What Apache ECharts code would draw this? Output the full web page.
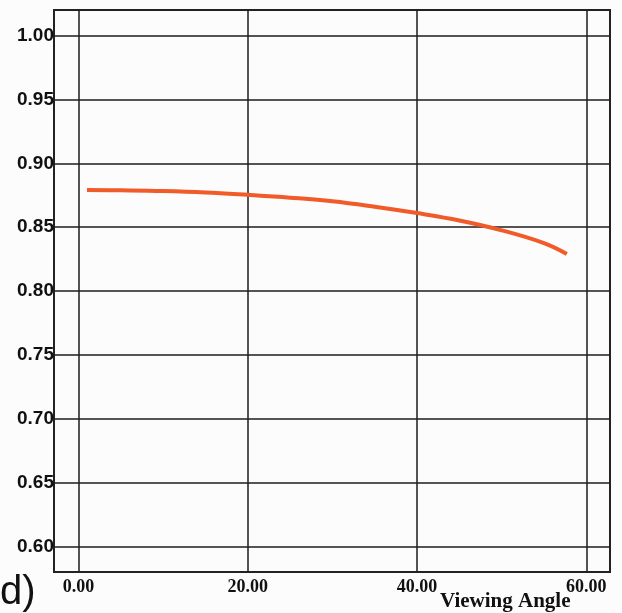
<!DOCTYPE html>
<html>
<head>
<meta charset="utf-8">
<script src="https://cdn.jsdelivr.net/npm/echarts@6/dist/echarts.min.js"></script>
<style>html,body{margin:0;padding:0;background:#fbfcfb;}#c{width:622px;height:613px;}</style>
</head>
<body>
<div id="c"></div>
<script>
const angles = [1, 5, 10, 15, 20, 25, 30, 35, 40, 45, 50, 55, 57.7];
const values = [0.8790, 0.8788, 0.8783, 0.8772, 0.8753, 0.8731, 0.8703, 0.8660, 0.8610, 0.8552, 0.8475, 0.8375, 0.8290];
const xTicks = [0, 20, 40, 60];
const yTicks = [0.60, 0.65, 0.70, 0.75, 0.80, 0.85, 0.90, 0.95, 1.00];
const xTitle = 'Viewing Angle';
const panelLabel = 'd)';

const chart = echarts.init(document.getElementById('c'));
chart.setOption({
  backgroundColor: '#fbfcfb',
  animation: false,
  grid: { left: 54, top: 10, right: 12, bottom: 41, show: true, borderColor: '#222', borderWidth: 2, backgroundColor: 'transparent' },
  xAxis: {
    type: 'value', min: -2.9, max: 62.8,
    axisLine: { show: false },
    axisTick: { show: false, customValues: xTicks },
    axisLabel: { customValues: xTicks, formatter: v => v.toFixed(2), color: '#111', fontFamily: 'Liberation Serif', fontWeight: 'bold', fontSize: 18, margin: 6 },
    splitLine: { show: true, lineStyle: { color: '#1c1c1c', width: 1.5 } }
  },
  yAxis: {
    type: 'value', min: 0.58, max: 1.02,
    axisLine: { show: false },
    axisTick: { show: false, customValues: yTicks },
    axisLabel: { customValues: yTicks, formatter: v => v.toFixed(2), color: '#111', fontFamily: 'Liberation Sans', fontWeight: 'bold', fontSize: 19, margin: 0 },
    splitLine: { show: true, lineStyle: { color: '#1c1c1c', width: 1.5 } }
  },
  graphic: [
    { type: 'text', left: 440, top: 591, style: { text: xTitle, fill: '#111', font: 'bold 21px "Liberation Serif"' } },
    { type: 'text', left: 0, top: 573, style: { text: panelLabel, fill: '#111', font: '40px "Liberation Sans"' } }
  ],
  series: [{
    type: 'line', smooth: 0.4, showSymbol: false,
    data: angles.map((a, i) => [a, values[i]]),
    lineStyle: { color: '#f15a29', width: 4 }
  }]
});
</script>
</body>
</html>
